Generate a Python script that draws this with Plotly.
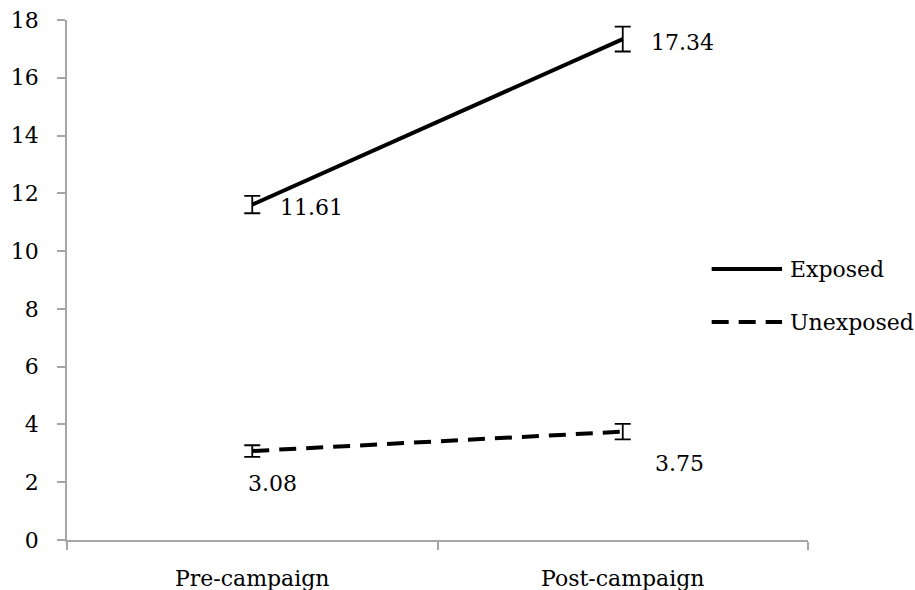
import plotly.graph_objects as go

# Campaign phases and mean scores per group
phases = ["Pre-campaign", "Post-campaign"]
exposed = [11.61, 17.34]
unexposed = [3.08, 3.75]
exposed_err = [0.30, 0.43]
unexposed_err = [0.20, 0.27]
series_names = ["Exposed", "Unexposed"]
y_ticks = [0, 2, 4, 6, 8, 10, 12, 14, 16, 18]

FONT = "DejaVu Serif"
FS = 22
AXIS_GREY = "#a6a6a6"

fig = go.Figure()

fig.add_trace(go.Scatter(
    x=phases, y=exposed, mode="lines", name=series_names[0],
    line=dict(color="black", width=4),
    error_y=dict(type="data", array=exposed_err, visible=True,
                 color="black", thickness=1.8, width=8),
    showlegend=False,
))
fig.add_trace(go.Scatter(
    x=phases, y=unexposed, mode="lines", name=series_names[1],
    line=dict(color="black", width=4, dash="17px,10px"),
    error_y=dict(type="data", array=unexposed_err, visible=True,
                 color="black", thickness=1.8, width=8),
    showlegend=False,
))

# Value labels next to each point
for ph, v in zip(phases, exposed):
    fig.add_annotation(x=ph, y=v, text=f"{v:.2f}", showarrow=False,
                       xanchor="left", yanchor="middle", xshift=26, yshift=-3,
                       font=dict(family=FONT, size=FS, color="black"))
label_shift = [-6, 30]
for ph, v, dx in zip(phases, unexposed, label_shift):
    fig.add_annotation(x=ph, y=v, text=f"{v:.2f}", showarrow=False,
                       xanchor="left", yanchor="middle", xshift=dx, yshift=-32,
                       font=dict(family=FONT, size=FS, color="black"))

# Legend drawn as line samples with labels on the right
legend_rows = [(0.521, "solid"), (0.419, "17px,10px")]
for name, (yy, dash) in zip(series_names, legend_rows):
    fig.add_shape(type="line", xref="paper", yref="paper",
                  x0=0.870, x1=0.965, y0=yy, y1=yy,
                  line=dict(color="black", width=4, dash=dash))
    fig.add_annotation(xref="paper", yref="paper", x=0.973, y=yy,
                       text=name, showarrow=False, xanchor="left",
                       yanchor="middle",
                       font=dict(family=FONT, size=FS, color="black"))

fig.update_layout(
    width=915, height=590,
    margin=dict(l=67, r=107, t=20, b=50),
    plot_bgcolor="white", paper_bgcolor="white",
    font=dict(family=FONT, size=FS, color="black"),
    showlegend=False,
)
fig.update_xaxes(
    type="category", range=[-0.5, 1.5], automargin=False,
    showline=True, linecolor=AXIS_GREY, linewidth=1.5,
    ticks="outside", tickson="boundaries", ticklen=8,
    tickcolor=AXIS_GREY, tickwidth=1.5,
    showgrid=False, zeroline=False, ticklabelstandoff=18,
)
fig.update_yaxes(
    range=[0, 18], tickvals=y_ticks, automargin=False,
    showline=True, linecolor=AXIS_GREY, linewidth=1.5,
    ticks="outside", ticklen=8, tickcolor=AXIS_GREY, tickwidth=1.5,
    showgrid=False, zeroline=False, ticklabelstandoff=14,
)

fig.write_html("out.html")
